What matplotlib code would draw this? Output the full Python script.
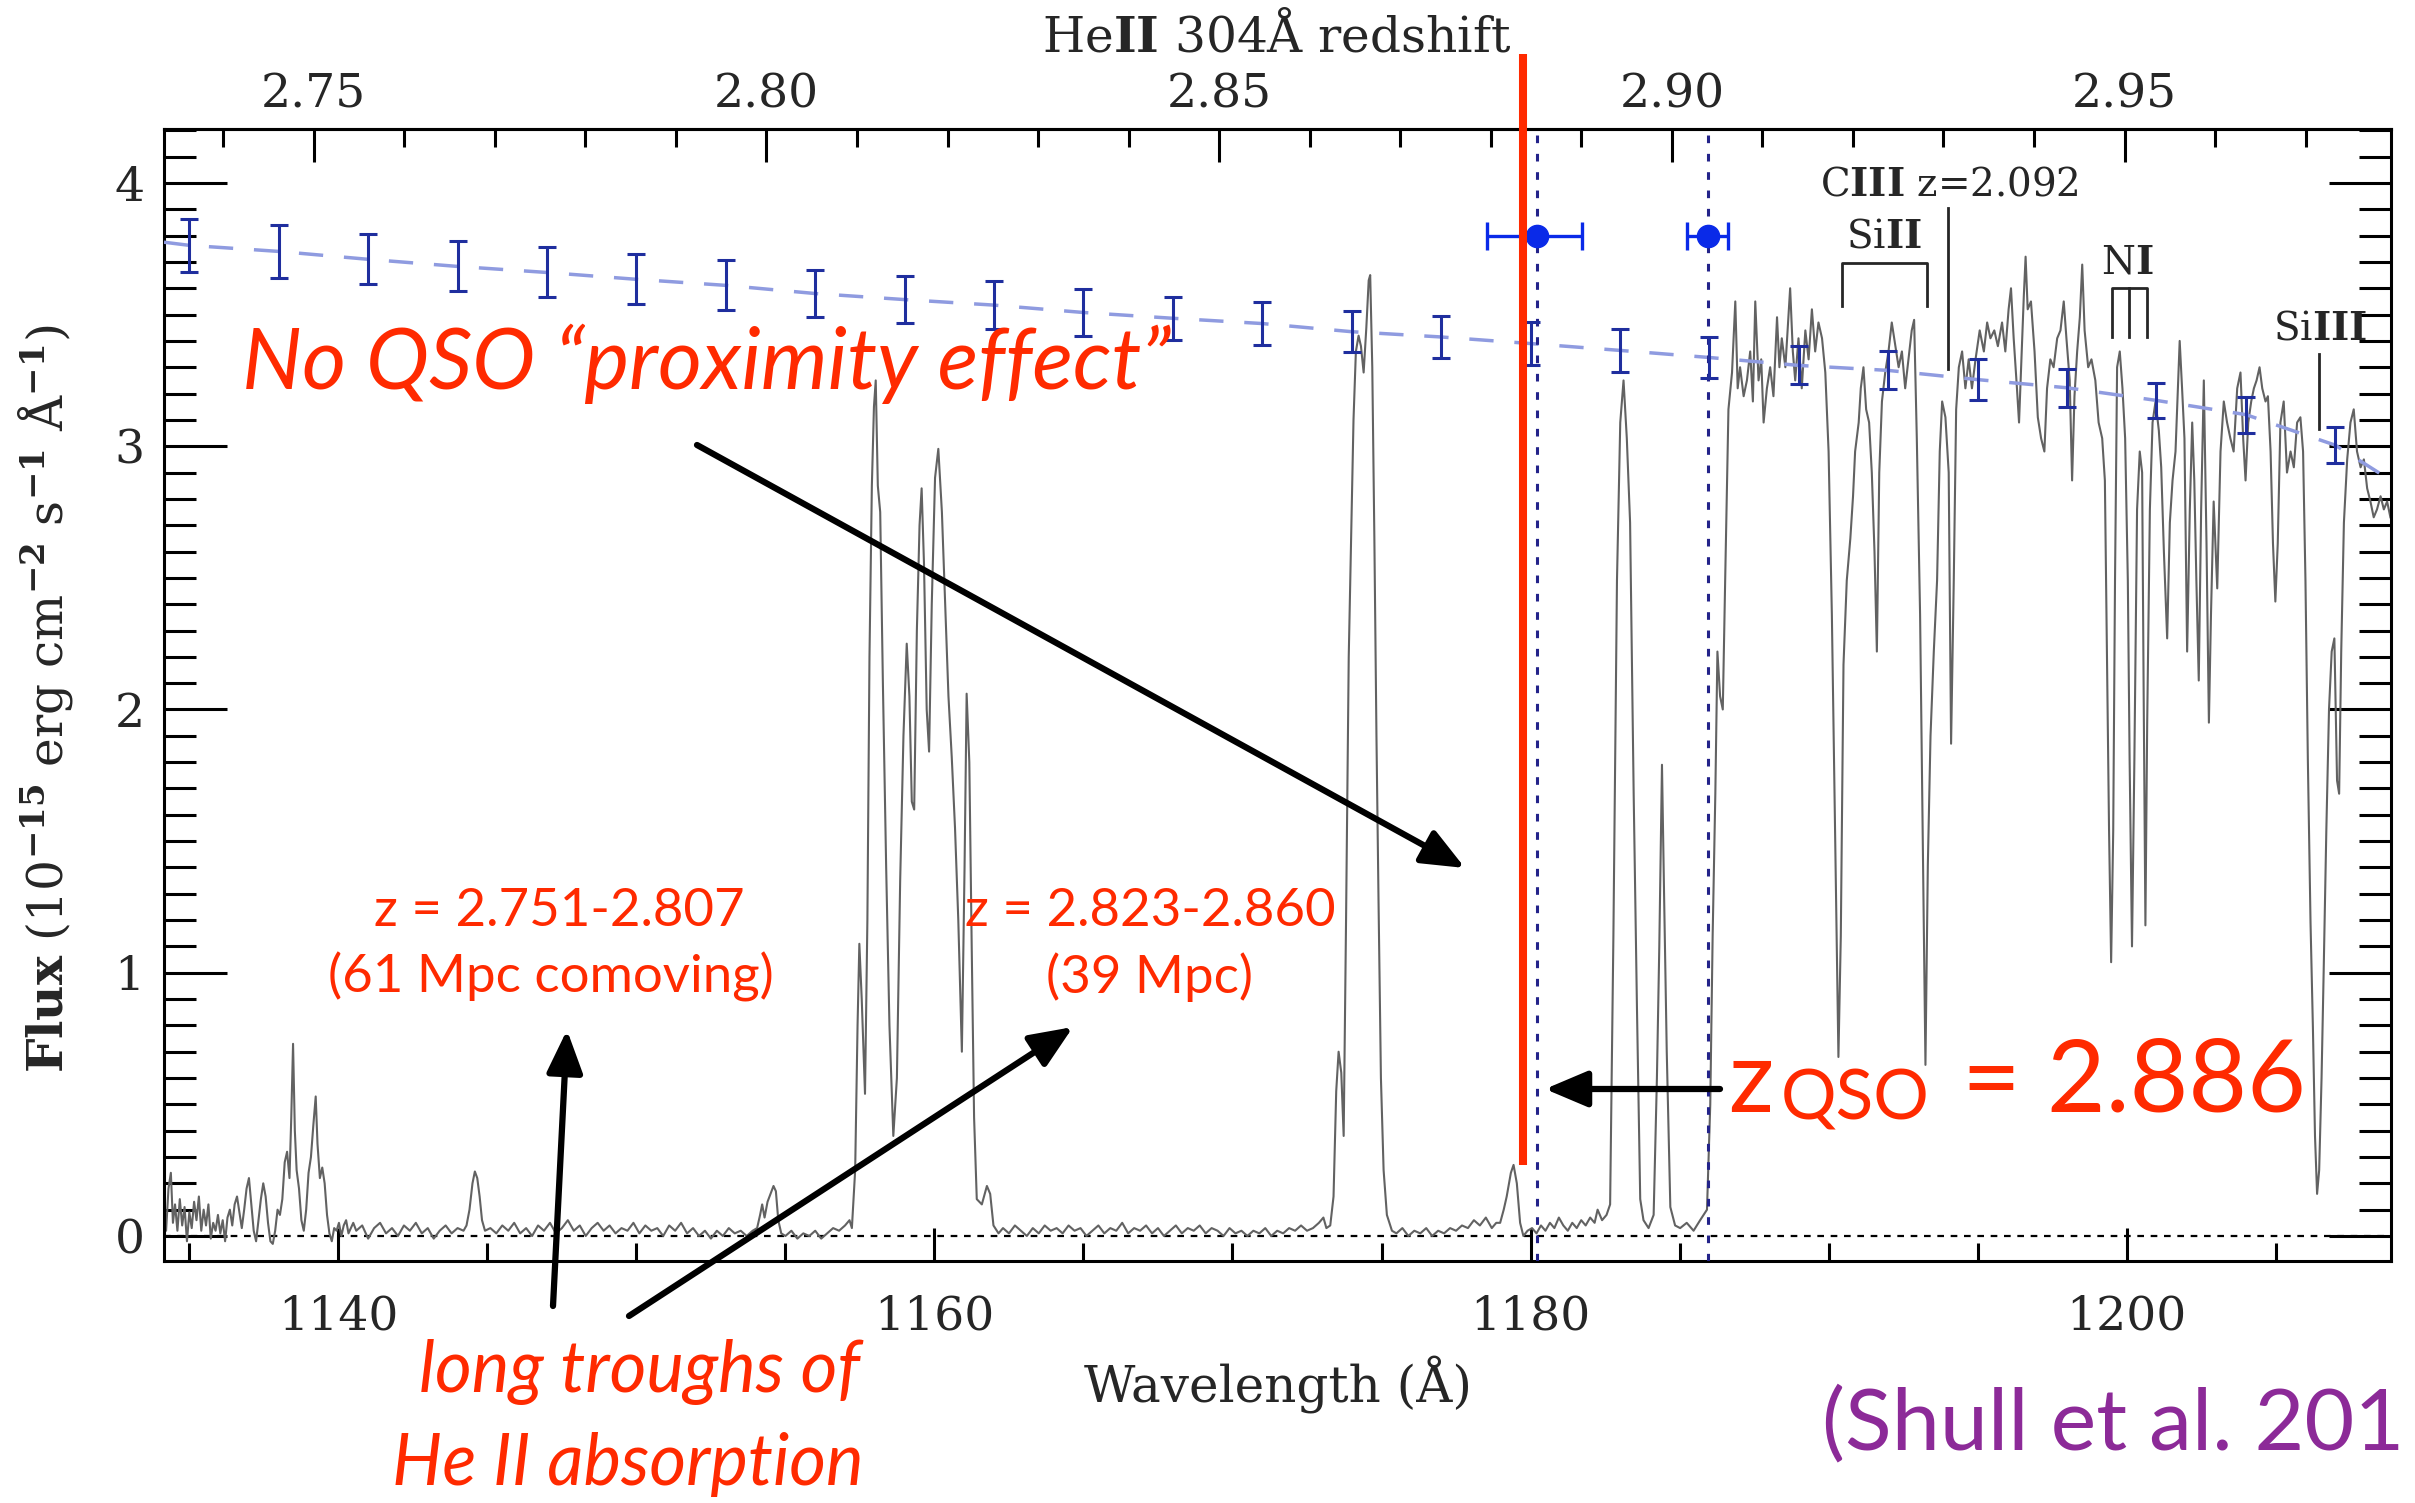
import matplotlib
matplotlib.use("Agg")
import matplotlib.pyplot as plt
from matplotlib.ticker import MultipleLocator, FormatStrFormatter

W, H = 2415, 1503
DPI = 100
HEII_REST = 303.78

# ---- spectrum: (wavelength [A], flux [1e-15 cgs]) ----
trough_a = [
    (1134.15, 0.10), (1134.22, 0.02), (1134.30, 0.18), (1134.38, 0.24), (1134.45, 0.05),
    (1134.52, 0.12), (1134.60, 0.02), (1134.68, 0.14), (1134.76, 0.04), (1134.84, 0.11),
    (1134.92, -0.02), (1135.00, 0.09), (1135.08, 0.03), (1135.16, 0.13), (1135.24, 0.06),
    (1135.32, 0.15), (1135.40, 0.02), (1135.48, 0.10), (1135.56, 0.04), (1135.64, 0.12),
    (1135.72, -0.01), (1135.80, 0.05), (1135.88, 0.02), (1135.96, 0.08), (1136.04, 0.01),
    (1136.12, 0.06), (1136.20, -0.02), (1136.28, 0.07), (1136.36, 0.10), (1136.44, 0.04),
    (1136.52, 0.12), (1136.60, 0.15), (1136.68, 0.09), (1136.76, 0.03), (1136.84, 0.10),
    (1136.92, 0.18), (1137.00, 0.22), (1137.08, 0.12), (1137.16, 0.02), (1137.24, -0.02),
    (1137.32, 0.06), (1137.40, 0.14), (1137.48, 0.20), (1137.56, 0.15), (1137.64, 0.05),
    (1137.72, -0.02), (1137.80, -0.03), (1137.88, 0.02), (1137.96, 0.10), (1138.04, 0.08),
    (1138.12, 0.14), (1138.20, 0.28), (1138.28, 0.32), (1138.36, 0.22), (1138.42, 0.45),
    (1138.48, 0.73), (1138.54, 0.40), (1138.60, 0.25), (1138.68, 0.18), (1138.76, 0.06),
    (1138.84, 0.02), (1138.92, 0.10), (1139.00, 0.24), (1139.08, 0.30), (1139.16, 0.42),
    (1139.24, 0.53), (1139.30, 0.35), (1139.38, 0.22), (1139.46, 0.26), (1139.54, 0.20),
    (1139.62, 0.08), (1139.70, 0.01), (1139.78, -0.02), (1139.86, 0.03), (1139.94, 0.02),
    (1140.02, 0.05), (1140.10, 0.00), (1140.18, 0.04), (1140.26, 0.06), (1140.34, 0.01),
    (1140.42, 0.03), (1140.50, 0.05),
]
trough_b = [
    (1140.6, 0.02), (1140.8, 0.04), (1141.0, -0.01), (1141.2, 0.03), (1141.4, 0.05),
    (1141.6, 0.01), (1141.8, 0.03), (1142.0, 0.00), (1142.2, 0.04), (1142.4, 0.02),
    (1142.6, 0.05), (1142.8, 0.01), (1143.0, 0.03), (1143.2, -0.01), (1143.4, 0.02),
    (1143.6, 0.04), (1143.8, 0.01), (1144.0, 0.03), (1144.2, 0.02), (1144.30, 0.04),
    (1144.40, 0.10), (1144.50, 0.20), (1144.58, 0.245), (1144.66, 0.22), (1144.74, 0.15),
    (1144.82, 0.06), (1144.92, 0.02), (1145.1, 0.03), (1145.3, 0.01), (1145.5, 0.04),
    (1145.7, 0.02), (1145.9, 0.05), (1146.1, 0.01), (1146.3, 0.03), (1146.5, 0.00),
    (1146.7, 0.04), (1146.9, 0.02), (1147.1, 0.05), (1147.3, 0.01), (1147.5, 0.03),
    (1147.7, 0.06), (1147.9, 0.02), (1148.1, 0.04), (1148.3, 0.00), (1148.5, 0.03),
    (1148.7, 0.05), (1148.9, 0.02), (1149.1, 0.04), (1149.3, 0.01), (1149.5, 0.03),
    (1149.7, 0.02), (1149.9, 0.05), (1150.1, 0.01), (1150.3, 0.04), (1150.5, 0.02),
    (1150.7, 0.03), (1150.9, 0.00), (1151.1, 0.04), (1151.3, 0.02), (1151.5, 0.05),
    (1151.7, 0.01), (1151.9, 0.03), (1152.1, 0.00), (1152.3, 0.02), (1152.5, -0.01),
    (1152.7, 0.02), (1152.9, 0.00), (1153.1, 0.03), (1153.3, 0.01), (1153.5, 0.02),
    (1153.7, 0.00), (1153.9, 0.02), (1154.05, 0.03), (1154.15, 0.08), (1154.22, 0.12),
    (1154.30, 0.07), (1154.40, 0.13), (1154.50, 0.16), (1154.60, 0.19), (1154.68, 0.17),
    (1154.76, 0.06), (1154.86, 0.01), (1155.0, 0.00), (1155.2, 0.02), (1155.4, -0.01),
    (1155.6, 0.01), (1155.8, 0.00), (1156.0, 0.02), (1156.2, -0.01), (1156.4, 0.01),
    (1156.6, 0.03), (1156.8, 0.02), (1157.0, 0.04), (1157.15, 0.06),
]
peaks_1158 = [
    (1157.23, 0.03), (1157.34, 0.25), (1157.42, 0.80), (1157.48, 1.11), (1157.56, 0.90),
    (1157.67, 0.54), (1157.75, 1.20), (1157.82, 2.20), (1157.90, 2.85), (1157.97, 3.15),
    (1158.03, 3.25), (1158.10, 2.85), (1158.18, 2.75), (1158.27, 2.10), (1158.38, 1.40),
    (1158.49, 0.80), (1158.62, 0.38), (1158.74, 0.60), (1158.85, 1.35), (1158.96, 1.90),
    (1159.07, 2.25), (1159.16, 2.05), (1159.24, 1.65), (1159.32, 1.62), (1159.41, 2.30),
    (1159.50, 2.70), (1159.57, 2.84), (1159.65, 2.55), (1159.74, 2.00), (1159.82, 1.84),
    (1159.91, 2.40), (1160.02, 2.88), (1160.13, 2.99), (1160.25, 2.75), (1160.36, 2.40),
    (1160.47, 2.05), (1160.58, 1.82), (1160.69, 1.55), (1160.80, 1.20), (1160.92, 0.70),
    (1161.01, 1.40), (1161.08, 2.06), (1161.17, 1.80), (1161.25, 1.10), (1161.33, 0.45),
    (1161.42, 0.14), (1161.59, 0.12), (1161.76, 0.19), (1161.87, 0.16), (1161.98, 0.04),
    (1162.15, 0.01),
]
trough_c = [
    (1162.3, 0.03), (1162.5, 0.01), (1162.7, 0.04), (1162.9, 0.02), (1163.1, 0.00),
    (1163.3, 0.03), (1163.5, 0.01), (1163.7, 0.04), (1163.9, 0.02), (1164.1, 0.03),
    (1164.3, 0.01), (1164.5, 0.04), (1164.7, 0.02), (1164.9, 0.03), (1165.1, 0.00),
    (1165.3, 0.02), (1165.5, 0.04), (1165.7, 0.01), (1165.9, 0.03), (1166.1, 0.02),
    (1166.3, 0.05), (1166.5, 0.01), (1166.7, 0.03), (1166.9, 0.02), (1167.1, 0.04),
    (1167.3, 0.01), (1167.5, 0.03), (1167.7, 0.00), (1167.9, 0.02), (1168.1, 0.04),
    (1168.3, 0.01), (1168.5, 0.03), (1168.7, 0.02), (1168.9, 0.04), (1169.1, 0.01),
    (1169.3, 0.03), (1169.5, 0.02), (1169.7, 0.00), (1169.9, 0.03), (1170.1, 0.01),
    (1170.3, 0.02), (1170.5, 0.00), (1170.7, 0.02), (1170.9, 0.01), (1171.1, 0.03),
    (1171.3, 0.00), (1171.5, 0.02), (1171.7, 0.01), (1171.9, 0.03), (1172.1, 0.02),
    (1172.3, 0.04), (1172.5, 0.02), (1172.7, 0.03), (1172.9, 0.05), (1173.05, 0.07),
    (1173.15, 0.03),
]
peak_1174 = [
    (1173.28, 0.04), (1173.39, 0.15), (1173.48, 0.55), (1173.56, 0.70), (1173.65, 0.62),
    (1173.73, 0.38), (1173.81, 1.20), (1173.90, 2.20), (1173.98, 2.65), (1174.06, 3.10),
    (1174.14, 3.36), (1174.23, 3.42), (1174.31, 3.38), (1174.40, 3.28), (1174.49, 3.45),
    (1174.57, 3.63), (1174.62, 3.65), (1174.69, 3.30), (1174.76, 2.65), (1174.83, 1.90),
    (1174.90, 1.27), (1174.98, 0.60), (1175.07, 0.25), (1175.18, 0.08), (1175.35, 0.02),
]
trough_d = [
    (1175.5, 0.01), (1175.7, 0.03), (1175.9, 0.00), (1176.1, 0.02), (1176.3, 0.01),
    (1176.5, 0.03), (1176.7, 0.00), (1176.9, 0.02), (1177.1, 0.01), (1177.3, 0.03),
    (1177.5, 0.02), (1177.7, 0.04), (1177.9, 0.03), (1178.1, 0.06), (1178.3, 0.04),
    (1178.5, 0.07), (1178.7, 0.03), (1178.85, 0.05), (1178.98, 0.05), (1179.10, 0.10),
    (1179.20, 0.15), (1179.34, 0.24), (1179.43, 0.27), (1179.54, 0.20), (1179.65, 0.05),
    (1179.76, 0.00), (1179.9, 0.02), (1180.05, 0.03), (1180.2, 0.01), (1180.35, 0.04),
    (1180.5, 0.02), (1180.65, 0.05), (1180.8, 0.03), (1180.95, 0.07), (1181.1, 0.04),
    (1181.25, 0.02), (1181.4, 0.05), (1181.55, 0.03), (1181.7, 0.06), (1181.85, 0.04),
    (1182.0, 0.07), (1182.15, 0.05), (1182.25, 0.10), (1182.4, 0.06), (1182.55, 0.08),
]
peaks_1183 = [
    (1182.67, 0.12), (1182.78, 1.14), (1182.90, 2.49), (1183.01, 3.09), (1183.12, 3.25),
    (1183.23, 3.03), (1183.34, 2.71), (1183.46, 1.68), (1183.57, 0.87), (1183.68, 0.14),
    (1183.79, 0.06), (1183.96, 0.03), (1184.13, 0.08), (1184.24, 0.60), (1184.32, 1.10),
    (1184.41, 1.79), (1184.48, 1.30), (1184.57, 0.70), (1184.69, 0.11), (1184.85, 0.04),
    (1185.02, 0.03), (1185.24, 0.05), (1185.47, 0.02), (1185.69, 0.06), (1185.92, 0.10),
    (1186.03, 0.50), (1186.11, 1.14), (1186.20, 1.68), (1186.27, 2.22), (1186.36, 2.05),
    (1186.45, 2.00), (1186.53, 2.49), (1186.64, 3.14),
]
red_continuum = [
    (1186.76, 3.28), (1186.87, 3.55), (1186.95, 3.22), (1187.03, 3.30), (1187.15, 3.19),
    (1187.26, 3.25), (1187.37, 3.36), (1187.46, 3.17), (1187.54, 3.55), (1187.65, 3.25),
    (1187.74, 3.33), (1187.82, 3.09), (1187.93, 3.22), (1188.04, 3.30), (1188.15, 3.19),
    (1188.27, 3.49), (1188.35, 3.30), (1188.43, 3.41), (1188.55, 3.30), (1188.71, 3.60),
    (1188.80, 3.36), (1188.88, 3.25), (1188.99, 3.41), (1189.10, 3.22), (1189.22, 3.44),
    (1189.33, 3.33), (1189.44, 3.52), (1189.55, 3.36), (1189.66, 3.47), (1189.78, 3.41),
    (1189.89, 3.28), (1190.00, 2.98), (1190.11, 2.36), (1190.22, 1.52), (1190.33, 0.68),
    (1190.41, 1.14), (1190.50, 2.17), (1190.61, 2.49), (1190.73, 2.65), (1190.82, 2.81),
    (1190.89, 2.98), (1191.01, 3.09), (1191.08, 3.22), (1191.17, 3.30), (1191.26, 3.14),
    (1191.36, 3.09), (1191.45, 2.90), (1191.54, 2.60), (1191.62, 2.22), (1191.70, 2.90),
    (1191.79, 3.17), (1191.90, 3.28), (1192.01, 3.36), (1192.12, 3.47), (1192.24, 3.38),
    (1192.35, 3.30), (1192.46, 3.36), (1192.57, 3.22), (1192.68, 3.33), (1192.79, 3.44),
    (1192.87, 3.48), (1192.96, 3.03), (1193.07, 2.36), (1193.17, 1.41), (1193.25, 0.65),
    (1193.33, 1.41), (1193.42, 1.90), (1193.53, 2.22), (1193.64, 2.49), (1193.73, 2.98),
    (1193.81, 3.17), (1193.92, 3.11), (1194.03, 2.90), (1194.11, 1.87), (1194.20, 2.49),
    (1194.28, 3.14), (1194.37, 3.30), (1194.48, 3.36), (1194.59, 3.22), (1194.70, 3.33),
    (1194.81, 3.22), (1194.93, 3.33), (1195.07, 3.44), (1195.21, 3.36), (1195.32, 3.47),
    (1195.43, 3.41), (1195.56, 3.44), (1195.68, 3.38), (1195.82, 3.47), (1195.93, 3.36),
    (1196.04, 3.52), (1196.12, 3.60), (1196.21, 3.41), (1196.32, 3.22), (1196.39, 3.09),
    (1196.47, 3.33), (1196.55, 3.57), (1196.61, 3.72), (1196.68, 3.52), (1196.79, 3.55),
    (1196.91, 3.36), (1197.02, 3.11), (1197.13, 3.03), (1197.24, 2.98), (1197.33, 3.22),
    (1197.44, 3.33), (1197.55, 3.30), (1197.67, 3.41), (1197.78, 3.44), (1197.89, 3.55),
    (1197.98, 3.41), (1198.09, 3.25), (1198.17, 2.87), (1198.25, 3.19), (1198.34, 3.36),
    (1198.43, 3.49), (1198.51, 3.69), (1198.59, 3.44), (1198.71, 3.30), (1198.82, 3.33),
    (1198.95, 3.25), (1199.06, 3.09), (1199.18, 3.03), (1199.27, 2.87), (1199.34, 2.22),
    (1199.41, 1.54), (1199.48, 1.04), (1199.55, 1.54), (1199.61, 2.49), (1199.68, 3.30),
    (1199.77, 3.36), (1199.86, 3.22), (1199.95, 3.03), (1200.04, 2.49), (1200.10, 1.81),
    (1200.18, 1.10), (1200.26, 1.81), (1200.35, 2.76), (1200.44, 2.98), (1200.52, 2.90),
    (1200.57, 2.08), (1200.63, 1.18), (1200.69, 1.95), (1200.78, 2.76), (1200.87, 3.09),
    (1200.97, 3.17), (1201.08, 3.06), (1201.16, 2.92), (1201.25, 2.60), (1201.36, 2.27),
    (1201.45, 2.71), (1201.54, 2.87), (1201.64, 2.98), (1201.72, 3.22), (1201.78, 3.40),
    (1201.86, 3.22), (1201.94, 3.03), (1202.03, 2.22), (1202.12, 2.76), (1202.20, 3.09),
    (1202.27, 2.87), (1202.34, 2.49), (1202.42, 2.11), (1202.50, 2.76), (1202.59, 3.25),
    (1202.68, 2.63), (1202.76, 1.95), (1202.83, 2.36), (1202.92, 2.79), (1203.04, 2.46),
    (1203.15, 2.98), (1203.26, 3.17), (1203.37, 3.09), (1203.48, 3.03), (1203.59, 2.98),
    (1203.71, 3.22), (1203.82, 3.28), (1203.91, 3.03), (1203.99, 2.87), (1204.08, 3.09),
    (1204.18, 3.17), (1204.27, 3.22), (1204.36, 3.25), (1204.46, 3.30), (1204.55, 3.22),
    (1204.66, 3.17), (1204.74, 3.19), (1204.83, 2.98), (1204.91, 2.63), (1204.99, 2.41),
    (1205.07, 2.63), (1205.16, 3.09), (1205.27, 3.17), (1205.38, 2.90), (1205.50, 2.98),
    (1205.61, 2.92), (1205.72, 3.09), (1205.83, 3.11), (1205.92, 2.98), (1206.00, 2.49),
    (1206.08, 1.81), (1206.17, 1.19), (1206.25, 0.79), (1206.32, 0.38), (1206.39, 0.16),
    (1206.46, 0.25), (1206.54, 0.60), (1206.61, 1.00), (1206.70, 1.54), (1206.79, 2.00),
    (1206.88, 2.22), (1206.97, 2.27), (1207.06, 1.73), (1207.13, 1.68), (1207.20, 2.22),
    (1207.29, 2.71), (1207.40, 2.95), (1207.51, 3.09), (1207.62, 3.14), (1207.73, 2.98),
    (1207.85, 2.92), (1207.96, 2.95), (1208.07, 2.84), (1208.18, 2.79), (1208.29, 2.73),
    (1208.40, 2.76), (1208.52, 2.81), (1208.63, 2.76), (1208.74, 2.79), (1208.85, 2.73),
]

# ---- continuum fit with error bars ----
cont_wave = [1135, 1138, 1141, 1144, 1147, 1150, 1153, 1156, 1159, 1162, 1165, 1168, 1171,
             1174, 1177, 1180, 1183, 1186, 1189, 1192, 1195, 1198, 1201, 1204, 1207]
cont_flux = [3.763, 3.740, 3.710, 3.683, 3.660, 3.634, 3.611, 3.580, 3.557, 3.536, 3.508,
             3.486, 3.466, 3.435, 3.415, 3.390, 3.364, 3.337, 3.307, 3.288, 3.253, 3.222,
             3.174, 3.120, 3.004]
cont_err = [0.100, 0.100, 0.095, 0.095, 0.095, 0.095, 0.095, 0.090, 0.090, 0.090, 0.090,
            0.082, 0.082, 0.078, 0.078, 0.081, 0.081, 0.076, 0.072, 0.072, 0.078, 0.072,
            0.068, 0.068, 0.068]
cont_line_wave = [1134.15] + cont_wave + [1208.87]
cont_line_flux = [3.775] + cont_flux + [2.87]

# ---- redshift markers (HeII edge), with wavelength error ----
edge_wave = [1180.21, 1185.95]
edge_flux = [3.80, 3.80]
edge_err_lo = [1.66, 0.70]
edge_err_hi = [1.53, 0.68]

zqso_wave = 1179.75
zqso_line_lo, zqso_line_hi = 0.27, 4.49

z_ticks = [2.75, 2.80, 2.85, 2.90, 2.95]
wave_ticks = [1140, 1160, 1180, 1200]
flux_ticks = [0, 1, 2, 3, 4]

# metal line markers
siII_bracket = [1190.46, 1193.31]
siII_y = [3.697, 3.534]
nI_legs = [1199.51, 1200.09, 1200.69]
nI_y = [3.602, 3.413]
ciii_wave, ciii_y = 1194.02, [3.905, 3.295]
siiii_wave, siiii_y = 1206.47, [3.35, 3.065]

RED = "#ff2a00"
PURPLE = "#8c2a98"
NAVY = "#1f2e9e"
DOT_NAVY = "#23238a"
LIGHT_BLUE = "#8f9be0"
BRIGHT_BLUE = "#0a2ae8"
INK = "#262626"

plt.rcParams["font.family"] = ["DejaVu Serif"]
plt.rcParams["mathtext.fontset"] = "dejavuserif"


def fx(x):
    return x / W


def fy(y):
    return 1 - y / H


def fig_arrow(ax, tail, tip, lw=4.5):
    ax.annotate("", xy=(tip[0], H - tip[1]), xytext=(tail[0], H - tail[1]),
                xycoords="figure pixels", textcoords="figure pixels",
                annotation_clip=False,
                arrowprops=dict(arrowstyle="-|>,head_length=1.3,head_width=0.55",
                                lw=lw, color="black", shrinkA=0, shrinkB=0,
                                mutation_scale=20))


def main():
    fig = plt.figure(figsize=(W / DPI, H / DPI), dpi=DPI)
    ax = fig.add_axes([fx(164), fy(1261), fx(2391) - fx(164), fy(129) - fy(1261)])

    spectrum = (trough_a + trough_b + peaks_1158 + trough_c + peak_1174 + trough_d
                + peaks_1183 + red_continuum)
    sw = [p[0] for p in spectrum]
    sf = [p[1] for p in spectrum]
    ax.plot(sw, sf, color="#626262", lw=1.5, zorder=2)

    ax.axhline(0, color="black", lw=1.6, ls=(0, (3, 3)), zorder=1)

    ax.plot(cont_line_wave, cont_line_flux, color=LIGHT_BLUE, lw=2.5,
            ls=(0, (7, 6)), zorder=3)
    ax.errorbar(cont_wave, cont_flux, yerr=cont_err, fmt="none", ecolor=NAVY,
                elinewidth=2.2, capsize=6.5, capthick=2.2, zorder=4)

    for w in edge_wave:
        ax.axvline(w, color=DOT_NAVY, lw=2.2, ls=(0, (2.5, 3.5)), zorder=3)
    ax.errorbar(edge_wave, edge_flux, xerr=[edge_err_lo, edge_err_hi], fmt="o",
                color=BRIGHT_BLUE, ms=16, elinewidth=2.4, capsize=10, capthick=2.4,
                zorder=5)

    ax.plot([zqso_wave, zqso_wave], [zqso_line_lo, zqso_line_hi], color=RED, lw=5.8,
            solid_capstyle="butt", clip_on=False, zorder=6)

    # metal line ids
    ax.plot([siII_bracket[0], siII_bracket[0], siII_bracket[1], siII_bracket[1]],
            [siII_y[1], siII_y[0], siII_y[0], siII_y[1]], color=INK, lw=2.0, zorder=4)
    ax.plot([nI_legs[0], nI_legs[0], nI_legs[2], nI_legs[2]],
            [nI_y[1], nI_y[0], nI_y[0], nI_y[1]], color=INK, lw=2.0, zorder=4)
    ax.plot([nI_legs[1], nI_legs[1]], nI_y, color=INK, lw=2.0, zorder=4)
    ax.plot([ciii_wave, ciii_wave], ciii_y, color=INK, lw=2.0, zorder=4)
    ax.plot([siiii_wave, siiii_wave], siiii_y, color=INK, lw=2.0, zorder=4)

    ax.set_xlim(1134.15, 1208.87)
    ax.set_ylim(-0.095, 4.205)

    ax.xaxis.set_minor_locator(MultipleLocator(5))
    ax.yaxis.set_minor_locator(MultipleLocator(0.1))
    ax.set_xticks(wave_ticks)
    ax.set_yticks(flux_ticks)
    ax.tick_params(axis="x", which="both", direction="in", top=False, bottom=True,
                   labelsize=34, labelcolor=INK, width=2.2, pad=24)
    ax.tick_params(axis="x", which="major", length=24)
    ax.tick_params(axis="x", which="minor", length=13)
    ax.tick_params(axis="y", which="both", direction="in", left=True, right=True,
                   labelsize=34, labelcolor=INK, width=2.2, pad=14)
    ax.tick_params(axis="y", which="major", length=45)
    ax.tick_params(axis="y", which="minor", length=23)
    for sp in ax.spines.values():
        sp.set_linewidth(2.2)

    sec = ax.secondary_xaxis("top", functions=(lambda w: w / HEII_REST - 1,
                                               lambda z: (z + 1) * HEII_REST))
    sec.set_xticks(z_ticks)
    sec.xaxis.set_minor_locator(MultipleLocator(0.01))
    sec.xaxis.set_major_formatter(FormatStrFormatter("%.2f"))
    sec.tick_params(axis="x", which="both", direction="in", labelsize=34,
                    labelcolor=INK, width=2.2, pad=8)
    sec.tick_params(axis="x", which="major", length=24)
    sec.tick_params(axis="x", which="minor", length=13)
    sec.spines["top"].set_linewidth(2.2)
    # top axis title sits above the redshift tick labels
    fig.text(fx(1277), fy(52), r"He$\mathbf{II}$ 304Å redshift", fontsize=35,
             color=INK, ha="center", va="baseline")

    ax.set_xlabel("Wavelength (Å)", fontsize=36, color=INK)
    ax.xaxis.set_label_coords(0.5, -0.083)
    ax.set_ylabel(r"$\mathbf{Flux}$ (10$^{\mathbf{-15}}$ erg cm$^{\mathbf{-2}}$ "
                  r"s$^{\mathbf{-1}}$ Å$^{\mathbf{-1}}$)", fontsize=35, color=INK)
    ax.yaxis.set_label_coords(-0.040, 0.497)

    # line labels
    fig.text(fx(1820), fy(195), r"C$\mathbf{III}$ z=2.092", fontsize=28, color=INK,
             ha="left", va="baseline")
    fig.text(fx(1884), fy(247), r"Si$\mathbf{II}$", fontsize=28, color=INK,
             ha="center", va="baseline")
    fig.text(fx(2127), fy(273), r"N$\mathbf{I}$", fontsize=28, color=INK,
             ha="center", va="baseline")
    fig.text(fx(2320), fy(339), r"Si$\mathbf{III}$", fontsize=28, color=INK,
             ha="center", va="baseline")

    # red annotations
    sans = ["Lato", "DejaVu Sans"]
    fig.text(fx(242), fy(389), "No QSO \u201cproximity effect\u201d", fontsize=61,
             color=RED, style="italic", family=sans, ha="left", va="baseline", zorder=7)
    fig.text(fx(559), fy(926), "z = 2.751-2.807", fontsize=38, color=RED,
             family=sans, ha="center", va="baseline")
    fig.text(fx(551), fy(993), "(61 Mpc comoving)", fontsize=38, color=RED,
             family=sans, ha="center", va="baseline")
    fig.text(fx(1150), fy(926), "z = 2.823-2.860", fontsize=38, color=RED,
             family=sans, ha="center", va="baseline")
    fig.text(fx(1149), fy(993), "(39 Mpc)", fontsize=38, color=RED,
             family=sans, ha="center", va="baseline")
    fig.text(fx(640), fy(1392), "long troughs of", fontsize=51, color=RED,
             style="italic", family=sans, ha="center", va="baseline")
    fig.text(fx(628), fy(1485), "He II absorption", fontsize=51, color=RED,
             style="italic", family=sans, ha="center", va="baseline")
    fig.text(fx(1728), fy(1112), "z", fontsize=72, color=RED, family=sans,
             ha="left", va="baseline")
    fig.text(fx(1781), fy(1120), "QSO", fontsize=50, color=RED, family=sans,
             ha="left", va="baseline")
    fig.text(fx(1962), fy(1112), "= 2.886", fontsize=73, color=RED, family=sans,
             ha="left", va="baseline")
    fig.text(fx(1822), fy(1449), "(Shull et al. 201", fontsize=62, color=PURPLE,
             family=sans, ha="left", va="baseline")

    fig_arrow(ax, (697, 445), (1465, 868))
    fig_arrow(ax, (553, 1306), (567, 1030))
    fig_arrow(ax, (629, 1316), (1073, 1027))
    fig_arrow(ax, (1720, 1089), (1545, 1089))

    fig.savefig("out.png", dpi=DPI, facecolor="white")


if __name__ == "__main__":
    main()
